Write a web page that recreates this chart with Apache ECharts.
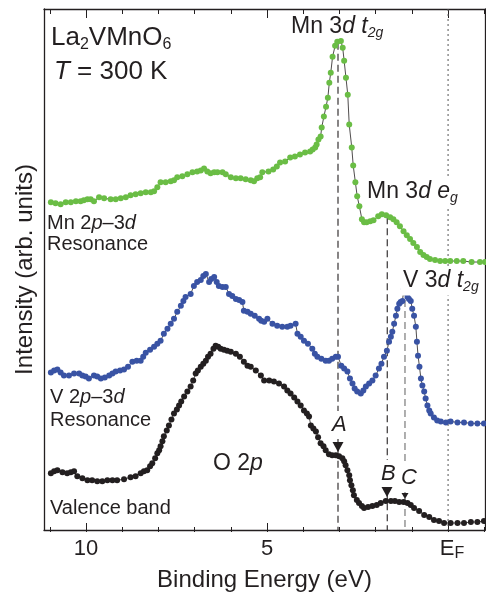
<!DOCTYPE html>
<html>
<head>
<meta charset="utf-8">
<script src="https://cdn.jsdelivr.net/npm/echarts@6/dist/echarts.min.js"></script>
<style>
  html, body { margin: 0; padding: 0; background: #fff; }
  #chart { width: 486px; height: 597px; }
</style>
</head>
<body>
<div id="chart"></div>
<script>
// binding energy (eV) and intensity (arb. units)
const mnEnergy = [10.97, 10.84, 10.70, 10.56, 10.42, 10.28, 10.15, 10.06, 9.96, 9.87, 9.78, 9.64, 9.50, 9.32, 9.18, 9.04, 8.90, 8.77, 8.63, 8.49, 8.35, 8.21, 8.12, 8.03, 7.94, 7.80, 7.66, 7.57, 7.48, 7.34, 7.20, 7.06, 6.93, 6.83, 6.74, 6.65, 6.56, 6.46, 6.37, 6.23, 6.14, 6.00, 5.86, 5.73, 5.59, 5.45, 5.36, 5.27, 5.19, 5.13, 4.96, 4.83, 4.73, 4.64, 4.50, 4.36, 4.23, 4.09, 3.95, 3.81, 3.74, 3.67, 3.63, 3.58, 3.52, 3.49, 3.43, 3.37, 3.32, 3.28, 3.24, 3.19, 3.12, 3.06, 2.96, 2.91, 2.87, 2.82, 2.77, 2.73, 2.66, 2.62, 2.56, 2.51, 2.45, 2.38, 2.32, 2.25, 2.15, 2.06, 1.93, 1.83, 1.71, 1.60, 1.51, 1.42, 1.33, 1.23, 1.14, 1.05, 0.96, 0.86, 0.77, 0.68, 0.59, 0.50, 0.36, 0.22, 0.08, -0.06, -0.24, -0.42, -0.65, -0.88, -1.02];
const mnIntensity = [329, 328, 327, 329, 329, 330, 330, 331, 332, 332, 330, 334, 333, 332, 332, 333, 334, 336, 337, 338, 339, 339, 340, 344, 349, 349, 350, 351, 354, 355, 357, 359, 360, 361, 363, 360, 358, 359, 359, 359, 357, 354, 353, 353, 352, 351, 350, 353, 354, 359, 360, 362, 365, 369, 370, 374, 375, 377, 379, 380, 382, 384, 387, 392, 395, 404, 415, 425, 434, 449, 459, 475, 486, 490, 491, 484, 471, 454, 437, 407, 384, 366, 349, 335, 325, 312, 309, 309, 310, 311, 315, 317, 316, 314, 312, 309, 305, 300, 296, 292, 288, 284, 279, 276, 274, 272, 271, 270, 270, 270, 270, 270, 269, 269, 269];

const vEnergy = [10.97, 10.88, 10.79, 10.70, 10.61, 10.47, 10.33, 10.19, 10.10, 10.01, 9.92, 9.78, 9.69, 9.59, 9.48, 9.36, 9.27, 9.18, 9.06, 8.95, 8.84, 8.72, 8.60, 8.49, 8.42, 8.35, 8.23, 8.12, 8.03, 7.94, 7.85, 7.75, 7.66, 7.57, 7.48, 7.38, 7.31, 7.25, 7.11, 7.02, 6.93, 6.83, 6.76, 6.69, 6.60, 6.54, 6.46, 6.39, 6.33, 6.23, 6.14, 6.05, 5.96, 5.86, 5.77, 5.68, 5.64, 5.54, 5.45, 5.34, 5.22, 5.16, 5.08, 4.99, 4.85, 4.72, 4.58, 4.44, 4.35, 4.21, 4.16, 4.07, 3.98, 3.87, 3.75, 3.68, 3.61, 3.50, 3.38, 3.29, 3.20, 3.10, 3.04, 2.95, 2.87, 2.78, 2.71, 2.64, 2.58, 2.51, 2.41, 2.34, 2.27, 2.18, 2.09, 2.00, 1.91, 1.84, 1.77, 1.69, 1.63, 1.58, 1.54, 1.49, 1.44, 1.40, 1.35, 1.31, 1.26, 1.22, 1.12, 1.08, 1.03, 0.99, 0.94, 0.89, 0.86, 0.83, 0.79, 0.75, 0.71, 0.66, 0.62, 0.57, 0.52, 0.48, 0.39, 0.30, 0.20, 0.06, -0.07, -0.26, -0.44, -0.63, -0.81, -0.99];
const vIntensity = [158, 160, 161, 158, 155, 155, 157, 157, 155, 154, 152, 155, 154, 152, 153, 155, 157, 159, 160, 161, 164, 169, 170, 170, 174, 178, 181, 184, 187, 190, 197, 202, 207, 212, 219, 225, 230, 234, 237, 245, 249, 251, 255, 257, 249, 252, 254, 249, 245, 244, 244, 237, 235, 232, 231, 229, 220, 219, 217, 215, 212, 210, 209, 212, 207, 205, 204, 204, 205, 207, 197, 194, 190, 187, 182, 177, 174, 172, 170, 170, 172, 174, 174, 165, 162, 159, 152, 147, 142, 139, 137, 140, 144, 147, 150, 155, 162, 167, 174, 180, 189, 194, 199, 207, 215, 222, 227, 229, 230, 242, 234, 232, 230, 222, 215, 204, 189, 175, 164, 152, 145, 139, 132, 125, 120, 117, 113, 110, 109, 108, 109, 108, 108, 107, 107, 107];

const vbEnergy = [10.97, 10.88, 10.79, 10.65, 10.52, 10.42, 10.33, 10.24, 10.10, 9.96, 9.83, 9.69, 9.55, 9.41, 9.27, 9.14, 8.95, 8.77, 8.63, 8.49, 8.40, 8.31, 8.23, 8.17, 8.09, 8.03, 7.98, 7.94, 7.89, 7.85, 7.77, 7.71, 7.64, 7.57, 7.49, 7.43, 7.37, 7.29, 7.20, 7.11, 7.04, 6.97, 6.91, 6.83, 6.76, 6.69, 6.63, 6.56, 6.48, 6.42, 6.35, 6.28, 6.19, 6.10, 6.00, 5.86, 5.75, 5.64, 5.54, 5.45, 5.31, 5.17, 5.08, 4.94, 4.81, 4.67, 4.53, 4.44, 4.35, 4.25, 4.16, 4.07, 3.98, 3.90, 3.84, 3.79, 3.72, 3.65, 3.59, 3.52, 3.44, 3.38, 3.29, 3.20, 3.10, 3.01, 2.92, 2.87, 2.83, 2.78, 2.73, 2.71, 2.67, 2.63, 2.60, 2.52, 2.46, 2.38, 2.32, 2.21, 2.09, 1.97, 1.86, 1.72, 1.58, 1.47, 1.35, 1.23, 1.12, 1.03, 0.94, 0.80, 0.66, 0.52, 0.39, 0.25, 0.11, -0.07, -0.26, -0.44, -0.63, -0.81, -0.99];
const vbIntensity = [57, 59, 60, 58, 57, 58, 59, 54, 52, 50, 50, 49, 49, 50, 50, 50, 51, 53, 54, 57, 59, 60, 64, 67, 72, 77, 80, 84, 89, 94, 100, 105, 111, 117, 121, 125, 129, 134, 139, 144, 150, 157, 160, 164, 167, 170, 174, 177, 182, 185, 184, 182, 181, 180, 179, 177, 174, 169, 165, 164, 160, 155, 150, 150, 149, 147, 144, 140, 137, 133, 129, 125, 120, 117, 114, 105, 102, 99, 93, 87, 84, 80, 76, 75, 75, 74, 72, 69, 65, 60, 55, 50, 45, 40, 35, 30, 27, 24, 22, 23, 24, 25, 27, 29, 29, 29, 28, 28, 27, 25, 22, 19, 15, 13, 10, 9, 7, 7, 7, 7, 8, 8, 9];

// guide lines: Mn t2g peak (A), B, C, and the Fermi level
const guideEnergy = [3.04, 1.68, 1.19];
const guideTop = [489, 314, 242];
const fermiEnergy = 0;

const xLabelValues = [10, 5, 0];

const FF = "'Liberation Sans', Arial, Helvetica, sans-serif";
const INK = '#231f20';

// x range of the frame
const X_MIN = -1.02, X_MAX = 11.16;
const G_LEFT = 44, G_RIGHT = 1, G_TOP = 9, G_BOTTOM = 65;
const PX_PER_EV = (486 - G_LEFT - G_RIGHT) / (X_MAX - X_MIN);
const px = e => G_LEFT + (X_MAX - e) * PX_PER_EV;

const chart = echarts.init(document.getElementById('chart'), null, {renderer: 'canvas'});

function richFor(fs, subLh) {
  const sfs = Math.round(fs * 0.62);
  return {
    n: {fontSize: fs, fontFamily: FF, color: INK, lineHeight: fs + 4},
    i: {fontSize: fs, fontFamily: FF, color: INK, fontStyle: 'italic', lineHeight: fs + 4},
    s: {fontSize: sfs, fontFamily: FF, color: INK, verticalAlign: 'bottom', lineHeight: subLh},
    si: {fontSize: sfs, fontFamily: FF, color: INK, fontStyle: 'italic', verticalAlign: 'bottom', lineHeight: subLh}
  };
}

function label(text, x, y, fs, subLh) {
  return {
    type: 'text', x: x, y: y, z: 50,
    style: {
      text: text, rich: richFor(fs, subLh), fill: INK,
      fontSize: fs, fontFamily: FF,
      align: 'left', verticalAlign: 'middle'
    }
  };
}

function whiteLabel(text, x, y, fs, subLh) {
  const g = label(text, x, y, fs, subLh);
  g.style.backgroundColor = '#fff';
  g.style.padding = [1, 2, 1, 2];
  return g;
}

function tri(cx, top, w, h) {
  return {
    type: 'polygon', z: 50,
    shape: {points: [[cx - w / 2, top], [cx + w / 2, top], [cx, top + h]]},
    style: {fill: INK}
  };
}

function curve(name, es, is, color) {
  return {
    name: name, type: 'line',
    data: es.map((e, k) => [e, is[k]]),
    symbol: 'circle', symbolSize: 6, showAllSymbol: true,
    lineStyle: {color: INK, width: 0.8},
    itemStyle: {color: color},
    z: 3, silent: true, animation: false
  };
}

function guide(e, top, dash, color, w) {
  return {
    type: 'line', data: [[e, top], [e, 0]],
    symbol: 'none', silent: true, animation: false, z: 1,
    lineStyle: {color: color, width: w, type: dash}
  };
}

// tick-only axes live on their own grids, lined up with the frame
function tickAxes(grid, min, max, interval, len) {
  return ['bottom', 'top'].map(pos => ({
    type: 'value', gridIndex: grid, position: pos, inverse: true,
    min: min, max: max, interval: interval,
    axisLine: {show: true, onZero: false, lineStyle: {opacity: 0}},
    axisTick: {show: true, inside: true, length: len, lineStyle: {color: INK, width: 1, opacity: 1}},
    axisLabel: {show: false},
    splitLine: {show: false}
  }));
}

const grids = [
  {left: G_LEFT, right: G_RIGHT, top: G_TOP, bottom: G_BOTTOM},
  {left: px(11), right: 486 - px(-1), top: G_TOP, bottom: G_BOTTOM},
  {left: px(10), right: 486 - px(0), top: G_TOP, bottom: G_BOTTOM}
];

const frameAxis = pos => ({
  type: 'value', gridIndex: 0, position: pos, inverse: true,
  min: X_MIN, max: X_MAX,
  axisLine: {show: true, onZero: false, lineStyle: {color: INK, width: 1.3}},
  axisTick: {show: false}, axisLabel: {show: false}, splitLine: {show: false}
});

const bottomAxis = frameAxis('bottom');
bottomAxis.axisLabel = {
  show: true, customValues: xLabelValues, margin: 6,
  fontSize: 22, fontFamily: FF, color: INK, lineHeight: 26,
  formatter: v => v === 0 ? '{e|E}{f|F}' : String(v),
  rich: {
    e: {fontSize: 22, fontFamily: FF, color: INK, lineHeight: 26, padding: [0, 0, 0, 8]},
    f: {fontSize: 16, fontFamily: FF, color: INK, verticalAlign: 'bottom', lineHeight: 12}
  }
};
bottomAxis.name = 'Binding Energy (eV)';
bottomAxis.nameLocation = 'middle';
bottomAxis.nameGap = 38;
bottomAxis.nameTextStyle = {fontSize: 24, fontFamily: FF, color: INK};

const hiddenY = g => ({type: 'value', gridIndex: g, min: 0, max: 1, show: false});

const option = {
  backgroundColor: '#fff',
  animation: false,
  grid: grids,
  xAxis: [bottomAxis, frameAxis('top')]
    .concat(tickAxes(1, -1, 11, 1, 5))
    .concat(tickAxes(2, 0, 10, 5, 9)),
  yAxis: [
    {
      type: 'value', gridIndex: 0, min: 0, max: 523, position: 'left',
      axisLine: {show: true, onZero: false, lineStyle: {color: INK, width: 1.3}},
      axisTick: {show: false}, axisLabel: {show: false}, splitLine: {show: false},
      name: 'Intensity (arb. units)', nameLocation: 'middle', nameGap: 7,
      nameTextStyle: {fontSize: 24, fontFamily: FF, color: INK}
    },
    {
      type: 'value', gridIndex: 0, min: 0, max: 523, position: 'right',
      axisLine: {show: true, onZero: false, lineStyle: {color: INK, width: 1.3}},
      axisTick: {show: false}, axisLabel: {show: false}, splitLine: {show: false}
    },
    hiddenY(1),
    hiddenY(2)
  ],
  series: [
    guide(guideEnergy[0], guideTop[0], [7, 4], INK, 1.1),
    guide(guideEnergy[1], guideTop[1], [7, 4], INK, 1.1),
    guide(guideEnergy[2], guideTop[2], [7, 4], '#6d6d6d', 1.1),
    guide(fermiEnergy, 523, [2, 3], '#555', 1),
    curve('Valence band', vbEnergy, vbIntensity, INK),
    curve('V 2p-3d Resonance', vEnergy, vIntensity, '#3953a4'),
    curve('Mn 2p-3d Resonance', mnEnergy, mnIntensity, '#6abd45')
  ],
  graphic: [
    label('{n|La}{s|2}{n|VMnO}{s|6}', 51, 38, 26, 12),
    label('{i|T}{n| = 300 K}', 54, 72, 26, 12),
    label('{n|Mn 3}{i|d t}{si|2g}', 291, 27, 23, 8),
    whiteLabel('{n|Mn 3}{i|d e}{si|g}', 365, 192, 23, 8),
    whiteLabel('{n|V 3}{i|d t}{si|2g}', 401, 281, 23, 8),
    label('{n|Mn 2}{i|p}{n|\u20133}{i|d}', 47, 223, 20, 8),
    label('{n|Resonance}', 47, 244, 20, 8),
    label('{n|V 2}{i|p}{n|\u20133}{i|d}', 50, 397, 20, 8),
    label('{n|Resonance}', 50, 420, 20, 8),
    label('{n|Valence band}', 50, 508, 20, 8),
    label('{n|O 2}{i|p}', 213, 464, 23, 8),
    whiteLabel('{i|A}', 330, 425, 22, 8),
    whiteLabel('{i|B}', 379, 474, 22, 8),
    whiteLabel('{i|C}', 399, 478, 22, 8),
    tri(338, 442, 11, 10),
    tri(387, 487, 11, 10),
    tri(405, 493, 7, 6)
  ]
};

chart.setOption(option);
</script>
</body>
</html>
